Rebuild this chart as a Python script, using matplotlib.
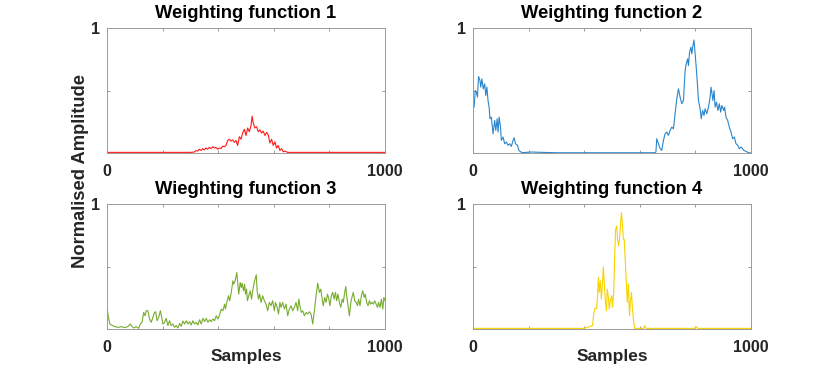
import numpy as np
import matplotlib.pyplot as plt

plt.rcParams['font.family'] = ['Liberation Sans', 'DejaVu Sans']
plt.rcParams['font.weight'] = 'bold'

titles = ['Weighting function 1', 'Weighting function 2',
          'Wieghting function 3', 'Weighting function 4']
colors = ['#ff1a1a', '#2a86cc', '#77ac30', '#f7d300']

# weighting function 1 (red)
x1 = [0, 100, 200, 300, 315, 320, 326, 332, 338, 344, 350, 356, 362, 368, 374,
      380, 386, 392, 398, 404, 410, 416, 422, 428, 434, 440, 446, 452, 458, 464,
      470, 476, 482, 488, 494, 500, 506, 512, 518, 522, 526, 532, 538, 544, 550,
      556, 562, 568, 574, 580, 586, 592, 598, 604, 610, 616, 622, 628, 634, 640,
      650, 700, 1000]
y1 = [0.005, 0.005, 0.005, 0.005, 0.008, 0.02, 0.015, 0.03, 0.02, 0.035, 0.025,
      0.04, 0.03, 0.045, 0.035, 0.05, 0.04, 0.045, 0.03, 0.04, 0.035, 0.055,
      0.05, 0.06, 0.1, 0.11, 0.095, 0.105, 0.085, 0.1, 0.06, 0.13, 0.11, 0.16,
      0.19, 0.14, 0.2, 0.17, 0.22, 0.295, 0.24, 0.2, 0.21, 0.17, 0.185, 0.16,
      0.175, 0.14, 0.165, 0.145, 0.08, 0.11, 0.06, 0.09, 0.04, 0.06, 0.02, 0.035,
      0.01, 0.015, 0.005, 0.005, 0.005]

# weighting function 2 (blue)
x2 = [0, 4, 8, 12, 16, 20, 25, 28, 32, 37, 42, 46, 50, 54, 58, 61, 66, 72, 78,
      82, 87, 90, 94, 99, 102, 108, 114, 120, 126, 132, 138, 144, 148, 153, 160,
      165, 172, 180, 210, 234, 300, 400, 500, 600, 655, 658, 661, 667, 673, 679,
      685, 691, 697, 703, 709, 715, 721, 727, 733, 739, 745, 751, 757, 763, 767,
      772, 775, 779, 784, 787, 791, 795, 799, 803, 808, 811, 817, 821, 826, 831,
      835, 841, 847, 853, 856, 859, 863, 867, 871, 876, 881, 886, 891, 895, 902,
      905, 910, 916, 922, 928, 934, 940, 946, 953, 958, 965, 974, 982, 989, 998,
      1000]
y2 = [0.407, 0.367, 0.5, 0.487, 0.447, 0.612, 0.58, 0.527, 0.593, 0.513, 0.553,
      0.46, 0.527, 0.42, 0.367, 0.274, 0.287, 0.154, 0.261, 0.181, 0.274, 0.168,
      0.287, 0.207, 0.101, 0.128, 0.074, 0.088, 0.061, 0.074, 0.053, 0.101,
      0.122, 0.074, 0.061, 0.021, 0.008, 0.003, 0.008, 0.006, 0.002, 0.002,
      0.002, 0.002, 0.002, 0.008, 0.114, 0.074, 0.035, 0.021, 0.101, 0.154,
      0.168, 0.141, 0.181, 0.207, 0.194, 0.314, 0.434, 0.513, 0.447, 0.394,
      0.42, 0.66, 0.713, 0.753, 0.7, 0.806, 0.846, 0.793, 0.859, 0.904, 0.793,
      0.686, 0.527, 0.42, 0.354, 0.274, 0.34, 0.301, 0.354, 0.314, 0.367, 0.447,
      0.527, 0.487, 0.42, 0.5, 0.367, 0.407, 0.34, 0.394, 0.327, 0.38, 0.34,
      0.367, 0.287, 0.261, 0.207, 0.168, 0.114, 0.128, 0.074, 0.061, 0.035,
      0.048, 0.021, 0.013, 0.005, 0.0, 0.0]

# weighting function 3 (green)
x3 = [0, 4, 10, 16, 28, 40, 51, 63, 75, 84, 90, 97, 105, 114, 120, 126, 132,
      137, 141, 147, 153, 159, 165, 171, 175, 180, 186, 192, 198, 201, 207, 213,
      219, 225, 231, 237, 243, 249, 255, 261, 267, 273, 279, 285, 291, 297, 303,
      309, 315, 321, 327, 333, 339, 345, 351, 357, 363, 369, 375, 381, 387, 393,
      399, 405, 411, 417, 423, 426, 431, 437, 441, 447, 453, 456, 461, 467, 471,
      474, 479, 483, 486, 491, 495, 498, 502, 505, 510, 515, 520, 525, 531, 537,
      540, 545, 549, 554, 560, 566, 572, 578, 584, 590, 596, 602, 606, 612, 617,
      622, 626, 632, 638, 644, 650, 656, 662, 668, 674, 680, 686, 690, 695, 699,
      704, 710, 716, 722, 728, 734, 740, 746, 752, 758, 764, 769, 774, 778, 783,
      788, 793, 798, 802, 807, 812, 817, 822, 826, 831, 836, 841, 846, 850, 855,
      859, 862, 867, 872, 877, 881, 886, 891, 896, 901, 905, 910, 915, 920, 925,
      929, 934, 939, 944, 948, 953, 958, 963, 968, 973, 977, 982, 987, 992, 996,
      1000]
y3 = [0.181, 0.106, 0.04, 0.032, 0.019, 0.013, 0.019, 0.011, 0.019, 0.04, 0.019,
      0.008, 0.019, 0.005, 0.04, 0.053, 0.133, 0.106, 0.146, 0.146, 0.08, 0.053,
      0.093, 0.133, 0.138, 0.066, 0.093, 0.146, 0.08, 0.04, 0.053, 0.085, 0.027,
      0.066, 0.027, 0.04, 0.013, 0.027, 0.008, 0.045, 0.021, 0.064, 0.04, 0.066,
      0.04, 0.059, 0.032, 0.066, 0.04, 0.053, 0.032, 0.074, 0.04, 0.085, 0.059,
      0.085, 0.053, 0.074, 0.059, 0.08, 0.066, 0.106, 0.08, 0.112, 0.16, 0.146,
      0.199, 0.16, 0.213, 0.266, 0.226, 0.293, 0.386, 0.359, 0.386, 0.452, 0.346,
      0.279, 0.372, 0.332, 0.367, 0.306, 0.359, 0.279, 0.319, 0.226, 0.266,
      0.306, 0.239, 0.319, 0.386, 0.434, 0.306, 0.239, 0.279, 0.213, 0.266,
      0.226, 0.199, 0.146, 0.213, 0.186, 0.226, 0.146, 0.213, 0.173, 0.12, 0.213,
      0.173, 0.213, 0.16, 0.199, 0.106, 0.16, 0.186, 0.146, 0.173, 0.213, 0.146,
      0.239, 0.173, 0.133, 0.146, 0.106, 0.133, 0.12, 0.138, 0.12, 0.04, 0.146,
      0.266, 0.367, 0.293, 0.319, 0.239, 0.186, 0.253, 0.213, 0.279, 0.239,
      0.186, 0.266, 0.293, 0.239, 0.293, 0.226, 0.279, 0.213, 0.173, 0.239,
      0.213, 0.293, 0.34, 0.266, 0.186, 0.106, 0.213, 0.253, 0.293, 0.226, 0.213,
      0.186, 0.239, 0.186, 0.266, 0.306, 0.253, 0.279, 0.213, 0.186, 0.226,
      0.199, 0.213, 0.199, 0.226, 0.199, 0.173, 0.213, 0.173, 0.239, 0.16, 0.253,
      0.226]

# weighting function 4 (yellow)
x4 = [0, 200, 400, 430, 435, 439, 445, 448, 451, 454, 458, 462, 465, 469, 472,
      476, 480, 483, 487, 490, 494, 499, 502, 506, 510, 513, 517, 520, 524, 528,
      531, 534, 537, 541, 544, 548, 552, 555, 559, 563, 566, 570, 573, 577, 581,
      613, 618, 622, 799, 804, 809, 1000]
y4 = [0.005, 0.005, 0.005, 0.027, 0.133, 0.165, 0.165, 0.266, 0.412, 0.293,
      0.386, 0.239, 0.346, 0.497, 0.372, 0.226, 0.146, 0.319, 0.253, 0.16, 0.226,
      0.266, 0.173, 0.293, 0.612, 0.798, 0.824, 0.718, 0.665, 0.745, 0.851,
      0.931, 0.851, 0.718, 0.718, 0.532, 0.359, 0.213, 0.359, 0.106, 0.213,
      0.293, 0.186, 0.08, 0.005, 0.005, 0.027, 0.005, 0.005, 0.018, 0.005, 0.005]

xs = [x1, x2, x3, x4]
ys = [y1, y2, y3, y4]

fig = plt.figure(figsize=(8.3, 3.71), dpi=100)
W, H = 830, 371
boxes = [(107, 28), (473, 28), (107, 204), (473, 204)]  # left, top in px
aw, ah = 278, 125

for i in range(4):
    l, t = boxes[i]
    ax = fig.add_axes([l / W, 1 - (t + ah) / H, aw / W, ah / H])
    ax.plot(xs[i], ys[i], color=colors[i], lw=0.8)
    ax.set_xlim(0, 1000)
    ax.set_ylim(0, 1)
    ax.set_xticks([0, 200, 400, 600, 800, 1000])
    ax.set_xticklabels(['0', '', '', '', '', '1000'])
    ax.set_yticks([0, 0.5, 1])
    ax.set_yticklabels(['', '', '1'])
    ax.tick_params(direction='in', length=2.5, width=0.6, color='#8a8a8a',
                   top=True, right=True, labelsize=11.5, labelcolor='#262626')
    ax.tick_params(axis='x', pad=8)
    ax.tick_params(axis='y', pad=5)
    for s in ax.spines.values():
        s.set_color('#9a9a9a')
        s.set_linewidth(0.7)
    ax.set_title(titles[i], fontsize=13.2, fontweight='bold', pad=7)
    if i >= 2:
        fig.text((l + aw / 2) / W, 1 - 357 / H, 'Samples', ha='center',
                 va='center', fontsize=12.5, fontweight='bold', color='#262626')

fig.text(80 / W, 1 - 171 / H, 'Normalised Amplitude', rotation=90, ha='center',
         va='center', fontsize=13.2, fontweight='bold', color='#262626')

fig.savefig('out.png', dpi=100, facecolor='white')
